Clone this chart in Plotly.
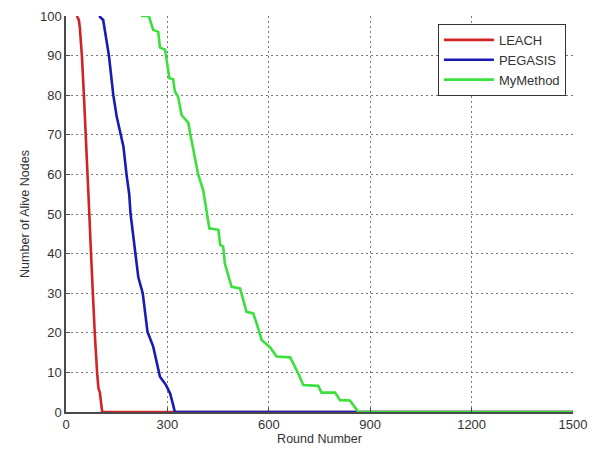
import plotly.graph_objects as go

leach_rounds = [32, 38, 41, 47, 53, 59, 63, 69, 74, 79, 85, 92, 96, 100, 102, 104, 107, 1500]
leach_alive = [100, 99, 97, 90, 80, 70, 60, 50, 40, 30, 20, 10, 6, 5, 3, 1, 0, 0]

pegasis_rounds = [98, 110, 127, 140, 150, 163, 170, 179, 187, 191, 204, 214, 227, 241, 258, 271, 278, 296, 308, 317, 322, 1500]
pegasis_alive = [100, 99, 90, 80, 74.6, 70, 67, 60, 55, 50, 40, 34, 30, 20.3, 16.5, 11, 8.9, 6.8, 4.7, 1.8, 0, 0]

mymethod_rounds = [222, 245, 258, 273, 278, 293, 306, 317, 322, 332, 342, 362, 367, 377, 391, 406, 416, 424,
                   451, 456, 465, 470, 490, 515, 534, 554, 564, 579, 604, 623, 663, 687, 702, 746, 756, 796,
                   811, 840, 865, 1500]
mymethod_alive = [100, 100, 96.5, 96, 92, 91.5, 84.3, 84, 81, 79.5, 75, 73, 70.5, 66, 60, 56, 50.6, 46.4,
                  46, 42.2, 41.8, 37.5, 31.6, 31.2, 25.3, 24.9, 22.4, 18.2, 16.3, 14, 13.8, 9.8, 6.8, 6.6, 4.9, 4.9,
                  3, 2.9, 0, 0]

x_ticks = [0, 300, 600, 900, 1200, 1500]
y_ticks = [0, 10, 20, 30, 40, 50, 60, 70, 80, 90, 100]

fig = go.Figure()
fig.add_trace(go.Scatter(x=leach_rounds, y=leach_alive, mode="lines", name="LEACH",
                         line=dict(color="#d02424", width=2.6)))
fig.add_trace(go.Scatter(x=pegasis_rounds, y=pegasis_alive, mode="lines", name="PEGASIS",
                         line=dict(color="#1a1ab4", width=2.6)))
fig.add_trace(go.Scatter(x=mymethod_rounds, y=mymethod_alive, mode="lines", name="MyMethod",
                         line=dict(color="#3ce03c", width=2.6)))

font_family = "Liberation Sans, Arial, sans-serif"
axis_common = dict(
    showgrid=True, gridcolor="#777777", griddash="2px,3px", gridwidth=1,
    showline=True, linecolor="#4a4a4a", linewidth=1.5,
    ticks="inside", ticklen=4, tickcolor="#4a4a4a",
    zeroline=False, mirror=False, automargin=False,
    tickfont=dict(family=font_family, size=13, color="#333333"),
)

fig.update_layout(
    width=595, height=452,
    margin=dict(l=66, r=22, t=16, b=40, autoexpand=False),
    paper_bgcolor="white", plot_bgcolor="white",
    font=dict(family=font_family, size=12, color="#333333"),
    xaxis=dict(range=[0, 1500], tickvals=x_ticks,
               title=dict(text="Round Number", font=dict(size=12.5), standoff=2), **axis_common),
    yaxis=dict(range=[0, 100], tickvals=y_ticks,
               title=dict(text="Number of Alive Nodes", font=dict(size=12.5), standoff=8), **axis_common),
    legend=dict(x=0.986, y=0.98, xanchor="right", yanchor="top",
                bgcolor="white", bordercolor="#333333", borderwidth=1,
                font=dict(size=13, family=font_family, color="#333333"),
                tracegroupgap=0, itemwidth=50),
    showlegend=True,
)

fig.write_html("out.html")
